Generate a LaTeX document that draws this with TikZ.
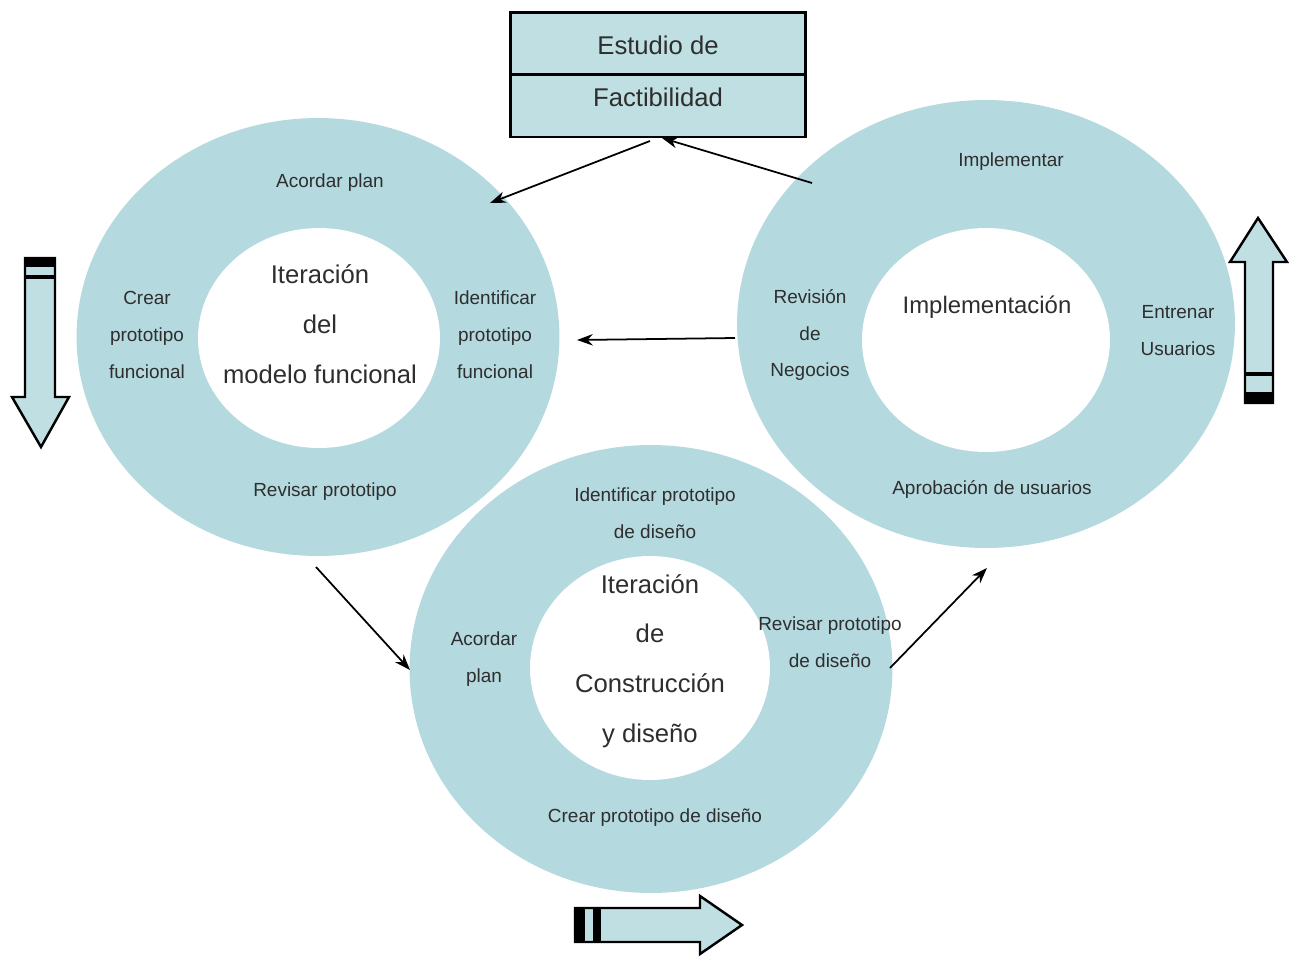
\documentclass[tikz,border=0pt]{standalone}
\usepackage{fontspec}
\setmainfont{Liberation Sans}
\usetikzlibrary{shapes.geometric,arrows.meta}
\definecolor{ringc}{HTML}{B4D9DF}
\definecolor{boxc}{HTML}{BFDFE3}
\definecolor{txt}{HTML}{2E2E2E}
\begin{document}
\begin{tikzpicture}[x=0.02cm,y=-0.02cm,
  ring/.style={ellipse, fill=ringc, draw=none, inner sep=0},
  hole/.style={ellipse, fill=white, draw=none, inner sep=0},
  lbl/.style={text=txt, align=center, inner sep=0, font=\fontsize{10.8}{21}\selectfont},
  big/.style={text=txt, align=center, inner sep=0, font=\fontsize{14.6}{28.3}\selectfont},
  flow/.style={draw=black, line width=1pt, -{Stealth[length=9pt,width=6.5pt]}},
  blk/.style={fill=boxc, draw=black, line width=1.4pt, line join=miter},
  boxn/.style={rectangle, fill=boxc, draw=black, line width=1.7pt, minimum width=5.92cm, inner sep=0},
  boxt/.style={text=txt, inner sep=0, font=\fontsize{14.6}{17}\selectfont}]
\useasboundingbox (0,0) rectangle (1289,957);

% outer rings
\node[ring, minimum width=9.66cm, minimum height=8.76cm] (lring) at (318,337) {};
\node[ring, minimum width=9.96cm, minimum height=8.96cm] (rring) at (986,324) {};
\node[ring, minimum width=9.66cm, minimum height=8.96cm] (bring) at (651,669) {};
% inner holes
\node[hole, minimum width=4.84cm, minimum height=4.4cm] (lhole) at (319,338) {};
\node[hole, minimum width=4.96cm, minimum height=4.48cm] (rhole) at (986,340) {};
\node[hole, minimum width=4.8cm, minimum height=4.48cm] (bhole) at (650,668) {};

% top box
\node[boxn, minimum height=1.24cm] (box1) at (658,43) {};
\node[boxn, minimum height=1.26cm] (box2) at (658,105.5) {};
\node[boxt] (box1t) at (658,45) {Estudio de};
\node[boxt] (box2t) at (658,97) {Factibilidad};

% left ring texts
\node[lbl] (l1) at (330,183) {Acordar plan};
\node[lbl] (l2) at (147,335) {Crear\\prototipo\\funcional};
\node[lbl] (l3) at (495,335) {Identificar\\prototipo\\funcional};
\node[big] (l4) at (320,324) {Iteración\\del\\modelo funcional};
\node[lbl] (l5) at (325,492) {Revisar prototipo};

% bottom ring texts
\node[lbl] (b1) at (655,513) {Identificar prototipo\\de diseño};
\node[lbl] (b2) at (484,659) {Acordar\\plan};
\node[big] (b3) at (650,661) {Iteración\\de\\Construcción\\y diseño};
\node[lbl] (b4) at (830,642) {Revisar prototipo\\de diseño};
\node[lbl] (b5) at (655,818) {Crear prototipo de diseño};

% right ring texts
\node[lbl] (r1) at (1011,162) {Implementar};
\node[lbl] (r2) at (810,335) {Revisión\\de\\Negocios};
\node[font=\fontsize{13.6}{16}\selectfont, text=txt, inner sep=0] (r3) at (987,307) {Implementación};
\node[lbl] (r4) at (1178,331) {Entrenar\\Usuarios};
\node[lbl] (r5) at (992,489) {Aprobación de usuarios};

% connectors
\coordinate (c1s) at (812,183);
\coordinate (c1e) at (662,138);
\coordinate (c2s) at (650,141);
\coordinate (c2e) at (490,203);
\coordinate (c3s) at (735,338);
\coordinate (c3e) at (577,340);
\coordinate (c4s) at (316,567);
\coordinate (c4e) at (410,670);
\coordinate (c5s) at (890,668);
\coordinate (c5e) at (987,568);
\draw[flow] (c1s) -- (c1e);
\draw[flow] (c2s) -- (c2e);
\draw[flow] (c3s) -- (c3e);
\draw[flow] (c4s) -- (c4e);
\draw[flow] (c5s) -- (c5e);

% left block arrow (down)
\draw[blk] (25,258) -- (25,397) -- (12,397) -- (41,447) -- (69,397) -- (55,397) -- (55,258) -- cycle;
\fill[black] (24,257) rectangle (56,267);
\fill[black] (24,275) rectangle (56,279);

% right block arrow (up)
\draw[blk] (1245,403) -- (1245,262) -- (1230,262) -- (1258,218) -- (1287,262) -- (1273,262) -- (1273,403) -- cycle;
\fill[black] (1244,392) rectangle (1274,404);
\fill[black] (1244,372) rectangle (1274,376);

% bottom block arrow (right)
\draw[blk] (575,908) -- (700,908) -- (700,896) -- (742,925) -- (700,954) -- (700,942) -- (575,942) -- cycle;
\fill[black] (574,907) rectangle (585,943);
\fill[black] (593,907) rectangle (601,943);
\end{tikzpicture}
\end{document}
